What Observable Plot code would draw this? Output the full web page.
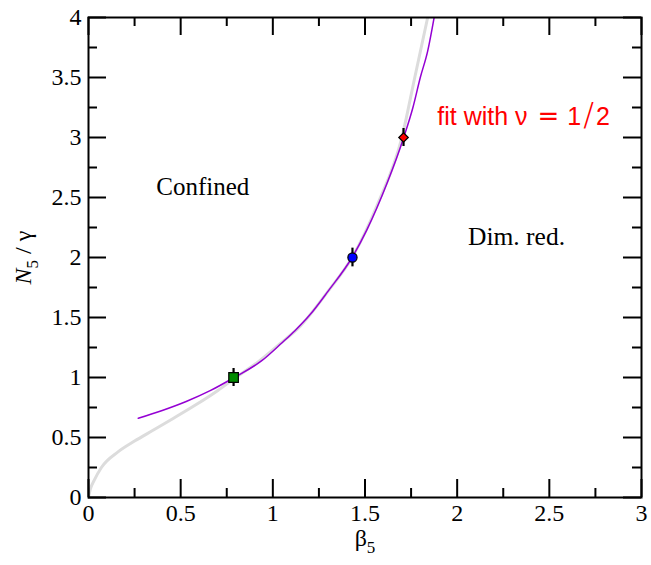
<!DOCTYPE html>
<html><head><meta charset="utf-8">
<script src="https://cdn.jsdelivr.net/npm/d3@7"></script>
<script src="https://cdn.jsdelivr.net/npm/@observablehq/plot@0.6"></script>
<style>html,body{margin:0;padding:0;background:#fff}</style>
</head><body><div id="chart"></div>
<script>
// purple fit curve (nu = 1/2)
const fitBeta = [0.27, 0.40, 0.53, 0.66, 0.79, 0.94, 1.05, 1.12, 1.20, 1.30, 1.43, 1.51, 1.62, 1.71, 1.76, 1.80, 1.84, 1.875];
const fitN    = [0.66, 0.725, 0.80, 0.89, 1.00, 1.14, 1.29, 1.39, 1.52, 1.72, 2.00, 2.23, 2.62, 3.00, 3.25, 3.50, 3.72, 4.00];
// light grey curve
const refBeta = [0, 0.01, 0.03, 0.07, 0.16, 0.25, 0.35, 0.45, 0.58, 0.70, 0.79, 0.92, 1.03, 1.15, 1.30, 1.43, 1.57, 1.70, 1.77, 1.84];
const refN    = [0, 0.07, 0.14, 0.25, 0.38, 0.47, 0.56, 0.65, 0.77, 0.89, 0.99, 1.13, 1.27, 1.43, 1.72, 2.00, 2.45, 3.00, 3.50, 4.00];
// measured points with errors
const pointBeta = [0.787, 1.432, 1.709];
const pointN    = [1.0, 2.0, 3.0];
const pointErr  = [0.075, 0.078, 0.075];
// ticks
const xMajorTicks = [0, 0.5, 1, 1.5, 2, 2.5, 3];
const xMinorTicks = [0.25, 0.75, 1.25, 1.75, 2.25, 2.75];
const yMajorTicks = [0, 0.5, 1, 1.5, 2, 2.5, 3, 3.5, 4];
const yMinorTicks = [0.25, 0.75, 1.25, 1.75, 2.25, 2.75, 3.25, 3.75];
// texts
const labelConfined = "Confined";
const labelDimRed = "Dim. red.";
const labelFit = "fit with ν = 1/2";

const fitRows = fitBeta.map((b, i) => ({b, n: fitN[i]}));
const refRows = refBeta.map((b, i) => ({b, n: refN[i]}));
const pointRows = pointBeta.map((b, i) => ({b, n: pointN[i], e: pointErr[i]}));

const markerStyles = [
  {symbol: "square", fill: "#008b00", r: 5.4},
  {symbol: "circle", fill: "#0000ff", r: 4.6},
  {symbol: "diamond2", fill: "#ff0000", r: 4.3}
];

const W = 651, H = 565, mL = 88, mR = 10, mT = 17, mB = 68;
const pw = W - mL - mR, ph = H - mT - mB;
const major = 18, minor = 9;
const serif = "Liberation Serif, Times New Roman, serif";
const sans = "Liberation Sans, Arial, sans-serif";

const tickStyle = {stroke: "black", strokeWidth: 2};

const chart = Plot.plot({
  width: W, height: H,
  marginLeft: mL, marginRight: mR, marginTop: mT, marginBottom: mB,
  style: {fontFamily: serif, fontSize: "23px", color: "black", background: "white", overflow: "visible"},
  x: {domain: [0, 3], axis: null},
  y: {domain: [0, 4], axis: null},
  marks: [
    Plot.line(refRows, {x: "b", y: "n", stroke: "#dcdcdc", strokeWidth: 3, curve: "monotone-x", clip: true}),
    Plot.line(fitRows, {x: "b", y: "n", stroke: "#9400d3", strokeWidth: 1.5, curve: "monotone-x", clip: true}),
    Plot.ruleX(pointRows, {x: "b", y1: d => d.n - d.e, y2: d => d.n + d.e, stroke: "black", strokeWidth: 2.2}),
    ...pointRows.map((p, i) => Plot.dot([p], {x: "b", y: "n", symbol: markerStyles[i].symbol, r: markerStyles[i].r, fill: markerStyles[i].fill, stroke: "black", strokeWidth: 1.2})),
    // inward ticks on all four sides
    Plot.tickX(xMajorTicks, {x: d => d, insetTop: ph - major, ...tickStyle}),
    Plot.tickX(xMinorTicks, {x: d => d, insetTop: ph - minor, ...tickStyle}),
    Plot.tickX(xMajorTicks, {x: d => d, insetBottom: ph - major, ...tickStyle}),
    Plot.tickX(xMinorTicks, {x: d => d, insetBottom: ph - minor, ...tickStyle}),
    Plot.tickY(yMajorTicks, {y: d => d, insetRight: pw - major, ...tickStyle}),
    Plot.tickY(yMinorTicks, {y: d => d, insetRight: pw - minor, ...tickStyle}),
    Plot.tickY(yMajorTicks, {y: d => d, insetLeft: pw - major, ...tickStyle}),
    Plot.tickY(yMinorTicks, {y: d => d, insetLeft: pw - minor, ...tickStyle}),
    // tick labels
    Plot.text(xMajorTicks, {x: d => d, frameAnchor: "bottom", lineAnchor: "top", dy: 6, text: d => String(d), fontSize: 24, fontFamily: serif, fill: "black"}),
    Plot.text(yMajorTicks, {y: d => d, frameAnchor: "left", textAnchor: "end", dx: -7, text: d => String(d), fontSize: 24, fontFamily: serif, fill: "black"}),
    Plot.frame({stroke: "black", strokeWidth: 2}),
    // annotations
    Plot.text([labelConfined], {x: 0.62, y: 2.59, text: d => d, fontSize: 25, fontFamily: serif, textAnchor: "middle"}),
    Plot.text([labelDimRed], {x: 2.322, y: 2.174, text: d => d, fontSize: 25.5, fontFamily: serif, textAnchor: "middle"}),
    Plot.text([labelFit], {x: 1.892, y: 3.17, text: d => d, fontSize: 25, fontFamily: sans, fill: "#ff0000", textAnchor: "start"}),
    // axis titles
    Plot.text(["XLABEL"], {frameAnchor: "bottom", dy: 48, text: d => d, fontSize: 24, fontFamily: serif, textAnchor: "middle"}),
    Plot.text(["YLABEL"], {frameAnchor: "left", dx: -65, rotate: -90, text: d => d, fontSize: 24, fontFamily: serif, textAnchor: "middle"})
  ]
});

document.getElementById("chart").appendChild(chart);

// rich text: subscripts in axis titles, math-like spacing in the fit label
d3.select(chart).selectAll("text").each(function() {
  const t = d3.select(this);
  const s = this.textContent;
  if (s === "XLABEL") {
    t.text(null);
    t.append("tspan").text("β");
    t.append("tspan").attr("dy", 7).attr("font-size", 17).text("5");
  } else if (s === "YLABEL") {
    t.text(null);
    t.append("tspan").attr("font-style", "italic").text("N");
    t.append("tspan").attr("dy", 7).attr("font-size", 17).text("5");
    t.append("tspan").attr("dy", -7).text(" / γ");
  } else if (s === labelFit) {
    const [lhs, rhs] = s.split(" = ");
    const [num, den] = rhs.split("/");
    t.text(null);
    t.append("tspan").text(lhs);
    t.append("tspan").attr("dx", 10).attr("font-family", "DejaVu Sans, sans-serif").attr("font-size", 26).text("=");
    t.append("tspan").attr("dx", 8).text(num);
    t.append("tspan").attr("dx", 2).attr("font-family", "DejaVu Sans, sans-serif").attr("font-size", 32).attr("font-weight", 200).text("/");
    t.append("tspan").attr("dx", 2).text(den);
  }
});
</script>
</body></html>
